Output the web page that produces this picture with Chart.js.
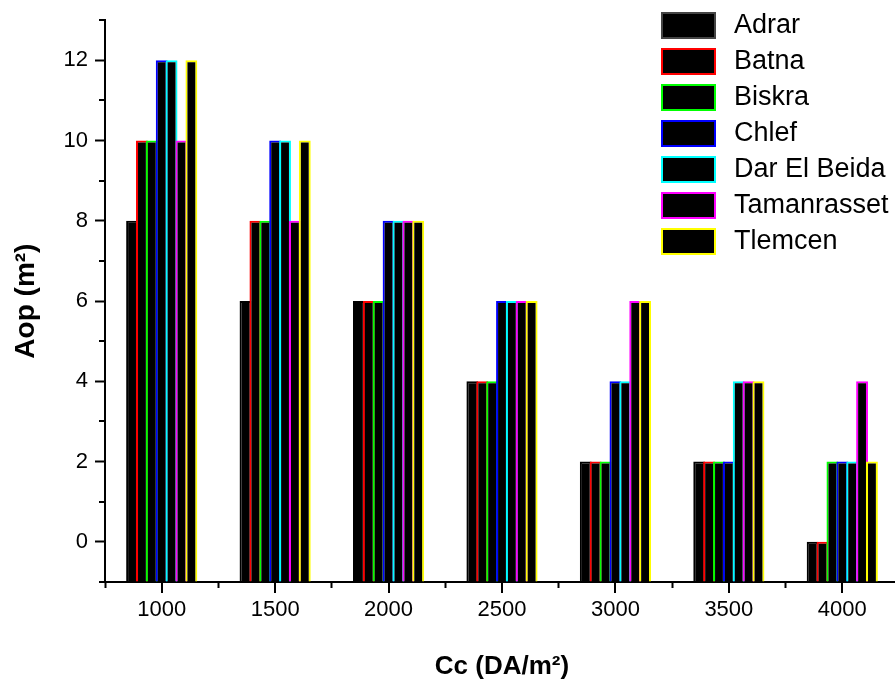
<!DOCTYPE html>
<html>
<head>
<meta charset="utf-8">
<script src="https://cdn.jsdelivr.net/npm/chart.js@4.4.1/dist/chart.umd.min.js"></script>
<style>
  html, body { margin: 0; padding: 0; background: #fff; overflow: hidden; }
</style>
</head>
<body>
<!-- the original plot is cropped on the right, so the canvas runs a few px past the window -->
<canvas id="aop_chart_canvas" width="899" height="681"></canvas>
<script>
var costs = ["1000", "1500", "2000", "2500", "3000", "3500", "4000"];
var cities = ["Adrar", "Batna", "Biskra", "Chlef", "Dar El Beida", "Tamanrasset", "Tlemcen"];
var cityColors = ["#000000", "#ff0000", "#00ff00", "#0000ff", "#00ffff", "#ff00ff", "#ffff00"];

var adrar       = [8, 6, 6, 4, 2, 2, 0];
var batna       = [10, 8, 6, 4, 2, 2, 0];
var biskra      = [10, 8, 6, 4, 2, 2, 2];
var chlef       = [12, 10, 8, 6, 4, 2, 2];
var darElBeida  = [12, 10, 8, 6, 4, 4, 2];
var tamanrasset = [10, 8, 8, 6, 6, 4, 4];
var tlemcen     = [12, 10, 8, 6, 6, 4, 2];

var seriesValues = [adrar, batna, biskra, chlef, darElBeida, tamanrasset, tlemcen];

var FONT = "'Liberation Sans', Arial, sans-serif";

// draw datasets first-to-last so each bar covers the right edge of the one before
var drawInOrder = {
  id: "drawInOrder",
  beforeDatasetsDraw: function (chart) {
    if (typeof chart._drawDataset !== "function") return true;
    var metas = chart.getSortedVisibleDatasetMetas().slice().sort(function (a, b) { return a.index - b.index; });
    metas.forEach(function (m) { chart._drawDataset(m); });
    return false;
  }
};

// long ticks under each category, short ticks on odd y values, and the legend
var extras = {
  id: "extras",
  afterDraw: function (chart) {
    var ctx = chart.ctx, xs = chart.scales.x, ys = chart.scales.y;
    ctx.save();
    ctx.strokeStyle = "#000";
    ctx.lineWidth = 2;
    ctx.beginPath();
    xs.ticks.forEach(function (t, i) {
      var px = Math.round(xs.getPixelForTick(i));
      ctx.moveTo(px, xs.top);
      ctx.lineTo(px, xs.top + 11);
    });
    ys.ticks.forEach(function (t) {
      if (t.value % 2 === 0) return;
      var py = Math.round(ys.getPixelForValue(t.value));
      ctx.moveTo(ys.right, py);
      ctx.lineTo(ys.right - 6, py);
    });
    ctx.stroke();

    ctx.font = "27px " + FONT;
    ctx.textBaseline = "middle";
    ctx.textAlign = "left";
    chart.data.datasets.forEach(function (ds, i) {
      var y = 12 + i * 36;
      ctx.fillStyle = "#000";
      ctx.fillRect(661, y, 55, 27);
      ctx.strokeStyle = i === 0 ? "#444" : ds.borderColor;
      ctx.lineWidth = 2;
      ctx.strokeRect(662, y + 1, 53, 25);
      ctx.fillStyle = "#000";
      ctx.fillText(ds.label, 734, y + 14);
    });
    ctx.restore();
  }
};

var chartCanvas = document.getElementById("aop_chart_canvas");
var context = chartCanvas.getContext("2d");

var chart = new Chart(context, {
  type: "bar",
  data: {
    labels: costs,
    datasets: cities.map(function (name, i) {
      return {
        label: name,
        data: seriesValues[i],
        backgroundColor: "#000000",
        borderColor: cityColors[i],
        borderWidth: 2,
        base: -1,
        categoryPercentage: 0.61,
        barPercentage: 1.2
      };
    })
  },
  options: {
    responsive: false,
    animation: false,
    layout: { padding: { top: 20, right: 0, left: 0, bottom: 0 } },
    plugins: {
      legend: { display: false },
      tooltip: { enabled: false }
    },
    scales: {
      x: {
        offset: true,
        afterFit: function (s) { s.height = 99; },
        border: { color: "#000", width: 2 },
        grid: {
          offset: true,
          drawOnChartArea: false,
          drawTicks: true,
          tickLength: 6,
          tickWidth: 2,
          tickColor: "#000"
        },
        ticks: {
          autoSkip: false,
          maxRotation: 0,
          padding: 9,
          color: "#000",
          font: { family: FONT, size: 22 }
        },
        title: {
          display: true,
          text: "Cc (DA/m²)",
          color: "#000",
          font: { family: FONT, size: 26, weight: "bold", lineHeight: 1 },
          padding: { top: 0, bottom: 1 }
        }
      },
      y: {
        min: -1,
        max: 13,
        afterFit: function (s) { s.width = 105; },
        border: { color: "#000", width: 2 },
        grid: {
          drawOnChartArea: false,
          drawTicks: true,
          tickLength: 10,
          tickWidth: 2,
          tickColor: function (c) { return c.tick && c.tick.value % 2 === 0 ? "#000" : "rgba(0,0,0,0)"; }
        },
        ticks: {
          stepSize: 1,
          autoSkip: false,
          padding: 7,
          color: "#000",
          font: { family: FONT, size: 22 },
          callback: function (v) { return v % 2 === 0 ? String(v) : ""; }
        },
        title: {
          display: true,
          text: "Aop (m²)",
          color: "#000",
          font: { family: FONT, size: 28, weight: "bold", lineHeight: 1 },
          padding: { top: 12, bottom: 0 }
        }
      }
    }
  },
  plugins: [drawInOrder, extras]
});
</script>
</body>
</html>
